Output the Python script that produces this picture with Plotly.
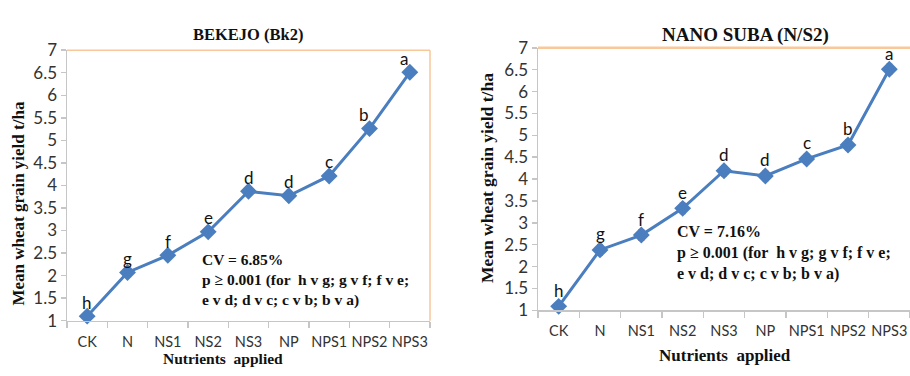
import plotly.graph_objects as go

categories = ["CK", "N", "NS1", "NS2", "NS3", "NP", "NPS1", "NPS2", "NPS3"]
bekejo_yield = [1.10, 2.07, 2.45, 2.97, 3.87, 3.77, 4.21, 5.26, 6.51]
bekejo_err = [0.06, 0.07, 0.08, 0.08, 0.09, 0.08, 0.09, 0.09, 0.09]
nanosuba_yield = [1.09, 2.38, 2.72, 3.33, 4.19, 4.07, 4.46, 4.78, 6.51]
nanosuba_err = [0.10, 0.12, 0.12, 0.12, 0.12, 0.11, 0.11, 0.12, 0.12]
letters = ["h", "g", "f", "e", "d", "d", "c", "b", "a"]
y_ticks = [1, 1.5, 2, 2.5, 3, 3.5, 4, 4.5, 5, 5.5, 6, 6.5, 7]

W, H = 910, 376
LINE = "#4A7EBF"
SERIF = "Liberation Serif"
SANS = "Lato"

fig = go.Figure()

def add_series(vals, errs, xa, ya):
    fig.add_trace(go.Scatter(
        x=categories, y=vals, xaxis=xa, yaxis=ya, mode="lines+markers",
        line=dict(color=LINE, width=3),
        marker=dict(symbol="diamond", size=13, color=LINE),
        error_y=dict(type="data", array=errs, color="#F06060", thickness=1.2, width=3),
        cliponaxis=False, showlegend=False, hoverinfo="skip"))

add_series(bekejo_yield, bekejo_err, "x", "y")
add_series(nanosuba_yield, nanosuba_err, "x2", "y2")

line_common = dict(showgrid=False, zeroline=False, linecolor="#C6C6C6", linewidth=1.5,
                   ticks="outside", tickcolor="#C6C6C6", tickwidth=1.5)
x_common = dict(type="category", range=[-0.5, 8.5], tickson="boundaries", ticklen=6,
                tickangle=0, ticklabelstandoff=7,
                tickfont=dict(family=SANS, size=14.5, color="#333333"),
                **line_common)
y_common = dict(range=[1, 7], tickvals=y_ticks, ticklen=5,
                tickfont=dict(family=SANS, size=17, color="#333333"), **line_common)

fig.update_layout(
    width=W, height=H, margin=dict(l=0, r=0, t=0, b=0),
    paper_bgcolor="white", plot_bgcolor="white",
    xaxis=dict(domain=[67 / W, 430 / W], anchor="y", **x_common),
    yaxis=dict(domain=[(H - 328) / H, (H - 41.5) / H], anchor="x", **y_common),
    xaxis2=dict(domain=[538 / W, 910 / W], anchor="y2", **x_common),
    yaxis2=dict(domain=[(H - 317) / H, (H - 39) / H], anchor="x2", **y_common),
)

# orange plot-area border (top/right on left chart, top on right chart)
ORANGE = "#F8C79A"
fig.add_shape(type="line", xref="x domain", yref="y domain", x0=0, x1=1, y0=1, y1=1,
              line=dict(color=ORANGE, width=1.5))
fig.add_shape(type="line", xref="x domain", yref="y domain", x0=1, x1=1, y0=0, y1=1,
              line=dict(color=ORANGE, width=1.5))
fig.add_shape(type="line", xref="x2 domain", yref="y2 domain", x0=0, x1=1, y0=1, y1=1,
              line=dict(color=ORANGE, width=2.5))

# significance letters
for xa, ya, vals, dy in (("x", "y", bekejo_yield, 14), ("x2", "y2", nanosuba_yield, 16)):
    for c, v, l in zip(categories, vals, letters):
        fig.add_annotation(x=c, y=v, xref=xa, yref=ya, text=l, showarrow=False,
                           yshift=dy, xshift=-6 if l in ("a", "b") and xa == "x" else 0,
                           font=dict(family=SANS, size=17, color="#111111"))

def ptext(x, y, text, size, angle=0, align="center", xanchor="center", yanchor="middle"):
    fig.add_annotation(x=x / W, y=1 - y / H, xref="paper", yref="paper", text=text,
                       showarrow=False, textangle=angle, align=align,
                       xanchor=xanchor, yanchor=yanchor,
                       font=dict(family=SERIF, size=size, color="#111111"))

ptext(248, 25, "<b>BEKEJO (Bk2)</b>", 16.5)
ptext(745, 25, "<b>NANO SUBA (N/S2)</b>", 19)
ptext(19, 204, "<b>Mean wheat grain yield t/ha</b>", 17, angle=-90)
ptext(487, 177, "<b>Mean wheat grain yield t/ha</b>", 17.5, angle=-90)
ptext(223, 368, "<b>Nutrients  applied</b>", 15.5, yanchor="middle")
ptext(725, 365, "<b>Nutrients  applied</b>", 17)
stats = "<b>CV = {}<br>p \u2265 0.001 (for  h v g; g v f; f v e;<br>e v d; d v c; c v b; b v a)</b>"
ptext(200, 285, stats.format("6.85%"), 15.5, align="left", xanchor="left")
ptext(675, 256, stats.format("7.16%"), 16, align="left", xanchor="left")

fig.write_html(
    "out.html",
    config={"displayModeBar": False, "staticPlot": True},
    post_script=("document.documentElement.style.margin='0';"
                 "document.documentElement.style.overflow='hidden';"
                 "document.body.style.margin='0';document.body.style.padding='0';"
                 "document.body.style.overflow='hidden';"),
)
